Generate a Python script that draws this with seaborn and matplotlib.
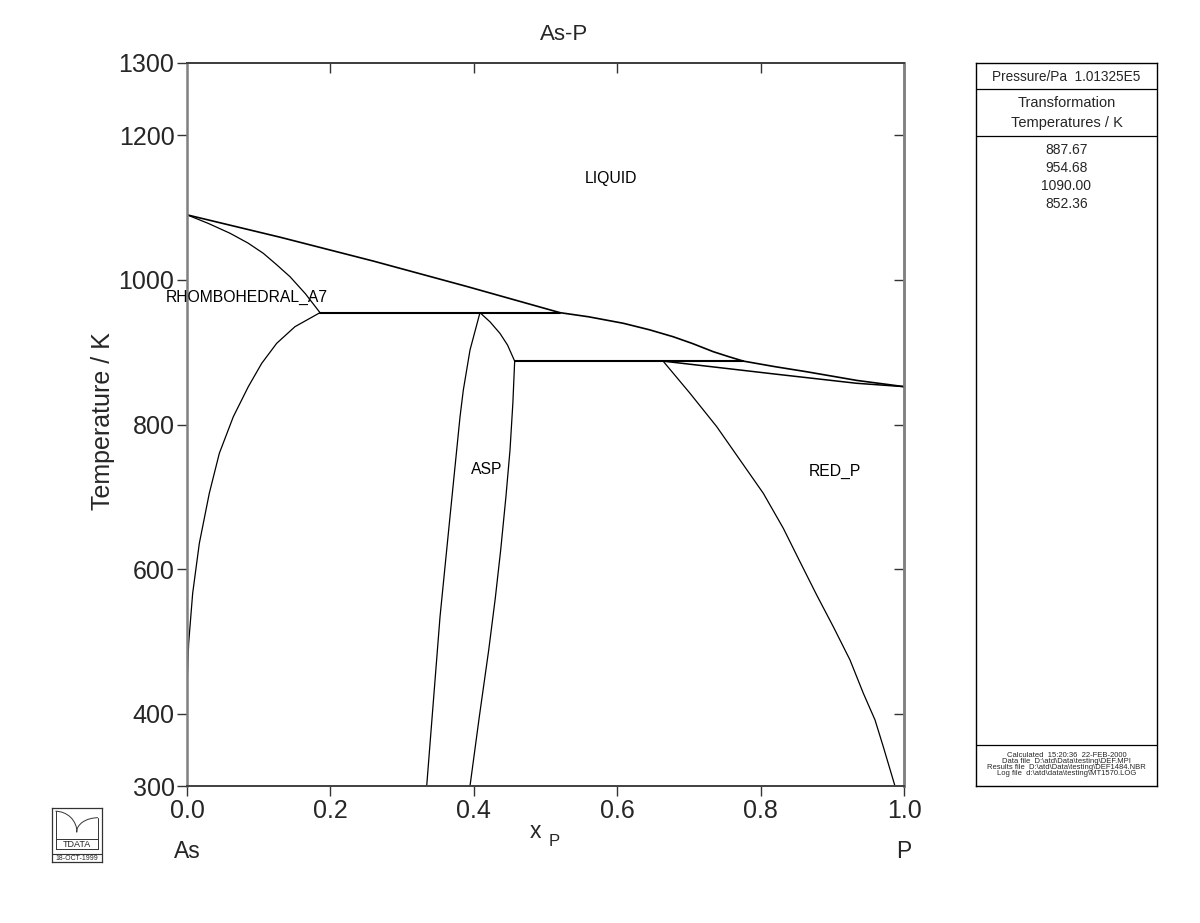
import numpy as np
import pandas as pd
import seaborn as sns
import matplotlib
matplotlib.use("Agg")
import matplotlib.pyplot as plt
from matplotlib.patches import Arc

# ---------------- data ----------------
liquidus_x = [0.0, 0.13, 0.26, 0.39, 0.5202, 0.56, 0.6085, 0.645, 0.678, 0.705, 0.734,
              0.755, 0.776, 0.82, 0.864, 0.934, 1.0]
liquidus_T = [1090.0, 1059.0, 1026.0, 991.0, 954.68, 949.0, 940.0, 931.0, 921.4, 912.0, 900.7,
              894.0, 887.67, 880.0, 873.0, 861.0, 852.36]

rhomb_solidus_x = [0.0, 0.03, 0.06, 0.085, 0.1064, 0.125, 0.1437, 0.165, 0.1855]
rhomb_solidus_T = [1090.0, 1078.0, 1064.5, 1051.0, 1036.8, 1021.0, 1004.4, 981.0, 954.68]

rhomb_solvus_x = [0.1855, 0.1506, 0.1251, 0.1042, 0.0855, 0.0646, 0.0451, 0.0311, 0.0172,
                  0.0079, 0.0023, 0.0005, 0.0, 0.0]
rhomb_solvus_T = [954.68, 935.3, 912.3, 884.6, 852.3, 810.8, 760.2, 704.9, 635.7,
                  566.5, 497.4, 451.0, 405.0, 300.0]

asp_left_x = [0.4086, 0.3947, 0.3854, 0.3808, 0.3668, 0.3529, 0.3343]
asp_left_T = [954.68, 903.0, 847.7, 810.8, 672.5, 534.2, 300.0]

asp_right_x = [0.4086, 0.4226, 0.4365, 0.447, 0.457, 0.4545, 0.4505, 0.4448, 0.4375,
               0.430, 0.4208, 0.4077, 0.3947]
asp_right_T = [954.68, 942.0, 926.0, 910.0, 887.67, 830.0, 764.7, 700.0, 626.4,
               560.0, 488.1, 395.9, 300.0]

redp_solvus_x = [0.664, 0.7015, 0.7388, 0.7713, 0.8038, 0.8317, 0.855, 0.8782, 0.9014,
                 0.9247, 0.9433, 0.9596, 0.9711, 0.9874]
redp_solvus_T = [887.67, 843.2, 797.0, 750.9, 704.8, 656.4, 610.0, 564.2, 520.3,
                 474.3, 428.2, 391.3, 354.4, 300.0]

redp_solidus_x = [0.664, 0.818, 0.934, 1.0]
redp_solidus_T = [887.67, 870.0, 857.0, 852.36]

inv1_x = [0.1855, 0.5202]
inv1_T = [954.68, 954.68]
inv2_x = [0.457, 0.776]
inv2_T = [887.67, 887.67]

phase_labels = ["LIQUID", "RHOMBOHEDRAL_A7", "ASP", "RED_P"]
phase_label_x = [0.591, 0.084, 0.418, 0.904]
phase_label_T = [1139.6, 976.0, 738.4, 735.7]

x_ticks = [0.0, 0.2, 0.4, 0.6, 0.8, 1.0]
y_ticks = [300, 400, 600, 800, 1000, 1200, 1300]

transformation_T = ["887.67", "954.68", "1090.00", "852.36"]
info_lines = ["Calculated  15:20:36  22-FEB-2000",
              "Data file  D:\\atd\\Data\\testing\\DEF.MPI",
              "Results file  D:\\atd\\Data\\testing\\DEF1484.NBR",
              "Log file  d:\\atd\\data\\testing\\MT1570.LOG"]

# ---------------- build tables per boundary ----------------
segments = {
    "liquidus": (liquidus_x, liquidus_T, 1.2),
    "rhomb_solidus": (rhomb_solidus_x, rhomb_solidus_T, 0.9),
    "rhomb_solvus": (rhomb_solvus_x, rhomb_solvus_T, 0.9),
    "asp_left": (asp_left_x, asp_left_T, 0.9),
    "asp_right": (asp_right_x, asp_right_T, 0.9),
    "redp_solvus": (redp_solvus_x, redp_solvus_T, 0.9),
    "redp_solidus": (redp_solidus_x, redp_solidus_T, 1.1),
    "inv1": (inv1_x, inv1_T, 1.5),
    "inv2": (inv2_x, inv2_T, 1.5),
}

sns.set_theme(style="white")
plt.rcParams["font.family"] = ["Liberation Sans", "DejaVu Sans"]

W, H = 1200, 923
fig = plt.figure(figsize=(12, 9.23), dpi=100)
ax = fig.add_axes([187 / W, (H - 786) / H, (904 - 187) / W, (786 - 63) / H])

for name, (xs, ts, lw) in segments.items():
    df = pd.DataFrame({"x": xs, "T": ts})
    sns.lineplot(data=df, x="x", y="T", sort=False, estimator=None,
                 color="black", linewidth=lw, ax=ax, legend=False)

for lab, lx, lt in zip(phase_labels, phase_label_x, phase_label_T):
    ax.text(lx, lt, lab, ha="center", va="center", fontsize=11.3, color="black")

ax.set_xlim(0, 1)
ax.set_ylim(300, 1300)
ax.set_xticks(x_ticks)
ax.set_xticklabels([f"{v:.1f}" for v in x_ticks])
ax.set_yticks(y_ticks)
ax.set_yticklabels([str(v) for v in y_ticks])
ax.tick_params(axis="both", direction="out", length=7, width=1, labelsize=18,
               color="#333333", pad=2, left=True, bottom=True)
ax.set_xlabel("")
ax.set_ylabel("")
for s in ["left", "right"]:
    ax.spines[s].set_color("#808080")
    ax.spines[s].set_linewidth(1.8)
for s in ["top", "bottom"]:
    ax.spines[s].set_color("#404040")
    ax.spines[s].set_linewidth(1.4)

secy = ax.secondary_yaxis("right")
secy.set_yticks([400, 600, 800, 1000, 1200])
secy.tick_params(direction="in", length=7, width=1, color="#333333", labelright=False)
secy.spines["right"].set_color("#808080")
secy.spines["right"].set_linewidth(1.8)
secx = ax.secondary_xaxis("top")
secx.set_xticks([0.2, 0.4, 0.6, 0.8])
secx.tick_params(direction="in", length=7, width=1, color="#333333", labeltop=False)
secx.spines["top"].set_color("#404040")
secx.spines["top"].set_linewidth(1.4)

# titles / labels
fig.text(564 / W, 1 - 35 / H, "As-P", ha="center", va="center", fontsize=16)
fig.text(103 / W, 1 - 421 / H, "Temperature / K", ha="center", va="center",
         rotation=90, fontsize=18)
fig.text(535 / W, 1 - 832 / H, "x", ha="center", va="center", fontsize=16.5)
fig.text(554 / W, 1 - 842 / H, "P", ha="center", va="center", fontsize=12)
fig.text(187 / W, 1 - 852 / H, "As", ha="center", va="center", fontsize=16.5)
fig.text(904 / W, 1 - 852 / H, "P", ha="center", va="center", fontsize=16.5)

# ---------------- right info panel ----------------
pan = fig.add_axes([976 / W, (H - 786) / H, (1157 - 976) / W, (786 - 63) / H])
pan.set_xlim(976, 1157)
pan.set_ylim(786, 63)
pan.set_xticks([])
pan.set_yticks([])
for s in pan.spines.values():
    s.set_color("black")
    s.set_linewidth(1.0)
cx = 1066.5
for yy in [89, 136, 745]:
    pan.plot([976, 1157], [yy, yy], color="black", lw=0.9)
pan.text(cx, 77, "Pressure/Pa  1.01325E5", ha="center", va="center", fontsize=9.8)
pan.text(cx, 103, "Transformation", ha="center", va="center", fontsize=10.5)
pan.text(cx, 123, "Temperatures / K", ha="center", va="center", fontsize=10.5)
for i, v in enumerate(transformation_T):
    pan.text(cx, 150 + 18.1 * i, v, ha="center", va="center", fontsize=10)
for i, line in enumerate(info_lines):
    pan.text(cx, 756 + 5.7 * i, line, ha="center", va="center", fontsize=5.5)

# ---------------- logo ----------------
lg = fig.add_axes([52 / W, (H - 862) / H, 50 / W, 54 / H])
lg.set_xlim(0, 1)
lg.set_ylim(0, 1)
lg.set_xticks([])
lg.set_yticks([])
for s in lg.spines.values():
    s.set_color("#333333")
    s.set_linewidth(0.9)
lg.plot([0, 1], [0.145, 0.145], color="#333333", lw=0.8)
lg.plot([0.07, 0.07], [0.94, 0.25], color="#333333", lw=0.7)
lg.plot([0.92, 0.92], [0.82, 0.25], color="#333333", lw=0.7)
lg.plot([0.07, 0.92], [0.42, 0.42], color="#333333", lw=0.7)
lg.plot([0.07, 0.92], [0.25, 0.25], color="#333333", lw=0.7)
lg.add_patch(Arc((0.07, 0.55), 0.86, 0.78, theta1=0, theta2=90, color="#333333", lw=0.7))
lg.add_patch(Arc((0.92, 0.55), 0.86, 0.54, theta1=90, theta2=180, color="#333333", lw=0.7))
lg.text(0.5, 0.33, "TDATA", ha="center", va="center", fontsize=6.5)
lg.text(0.5, 0.07, "18-OCT-1999", ha="center", va="center", fontsize=5)

fig.savefig("out.png", dpi=100)
